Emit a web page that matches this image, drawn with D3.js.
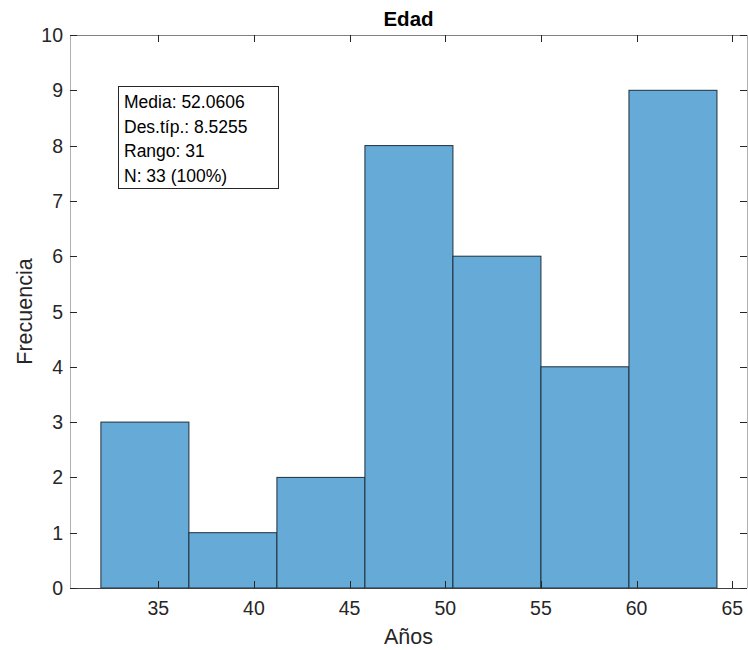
<!DOCTYPE html>
<html><head><meta charset="utf-8">
<script src="https://cdn.jsdelivr.net/npm/d3@7"></script>
<style>body{margin:0;background:#fff}svg{display:block}text{font-family:"Liberation Sans",Arial,sans-serif}</style>
</head><body><svg id="c" width="748" height="650"></svg>
<script>
const binEdges = [32, 36.6, 41.2, 45.8, 50.4, 55.0, 59.6, 64.2];
const counts = [3, 1, 2, 8, 6, 4, 9];
const xTicks = [35, 40, 45, 50, 55, 60, 65];
const yTicks = [0,1,2,3,4,5,6,7,8,9,10];
const statsLines = ["Media: 52.0606", "Des.típ.: 8.5255", "Rango: 31", "N: 33 (100%)"];
const title = "Edad", xLabel = "Años", yLabel = "Frecuencia";

const svg = d3.select("#c");
const L = 70, R = 747, T = 35, B = 588;
const x = d3.scaleLinear().domain([30.385, 65.77]).range([L, R]);
const y = d3.scaleLinear().domain([0, 10]).range([B, T]);

const bins = counts.map((c, i) => ({x0: binEdges[i], x1: binEdges[i+1], c}));
svg.selectAll("rect.bar").data(bins).enter().append("rect")
  .attr("x", d => x(d.x0)).attr("y", d => y(d.c))
  .attr("width", d => x(d.x1) - x(d.x0)).attr("height", d => y(0) - y(d.c))
  .attr("fill", "#66aad8").attr("stroke", "#1f2f3c").attr("stroke-width", 1);

// box
svg.append("line").attr("x1", L).attr("x2", R).attr("y1", T + 0.5).attr("y2", T + 0.5).attr("stroke", "#808080");
svg.append("line").attr("x1", L).attr("x2", R).attr("y1", B + 0.5).attr("y2", B + 0.5).attr("stroke", "#404040");
svg.append("line").attr("x1", L + 0.5).attr("x2", L + 0.5).attr("y1", T).attr("y2", B).attr("stroke", "#b0b0b0");
svg.append("line").attr("x1", R + 0.5).attr("x2", R + 0.5).attr("y1", T).attr("y2", B).attr("stroke", "#b0b0b0");

const tl = 7;
// x ticks
xTicks.forEach(t => {
  const px = Math.round(x(t)) + 0.5;
  svg.append("line").attr("x1", px).attr("x2", px).attr("y1", B).attr("y2", B - tl).attr("stroke", "#262626");
  svg.append("line").attr("x1", px).attr("x2", px).attr("y1", T).attr("y2", T + tl).attr("stroke", "#262626");
  svg.append("text").attr("x", x(t)).attr("y", B + 27).attr("text-anchor", "middle")
    .attr("font-size", 19.5).attr("fill", "#262626").text(t);
});
// y ticks
yTicks.forEach(t => {
  const py = Math.round(y(t)) + 0.5;
  svg.append("line").attr("x1", L).attr("x2", L + tl).attr("y1", py).attr("y2", py).attr("stroke", "#262626");
  svg.append("line").attr("x1", R - tl).attr("x2", R).attr("y1", py).attr("y2", py).attr("stroke", "#262626");
  svg.append("text").attr("x", 63).attr("y", y(t) + 7).attr("text-anchor", "end")
    .attr("font-size", 19.5).attr("fill", "#262626").text(t);
});

svg.append("text").attr("x", (L + R) / 2).attr("y", 26).attr("text-anchor", "middle")
  .attr("font-size", 20.5).attr("font-weight", "bold").attr("fill", "#000").text(title);
svg.append("text").attr("x", (L + R) / 2).attr("y", 644).attr("text-anchor", "middle")
  .attr("font-size", 21.5).attr("fill", "#262626").text(xLabel);
svg.append("text").attr("transform", `translate(32,${(T + B) / 2}) rotate(-90)`).attr("text-anchor", "middle")
  .attr("font-size", 21.5).attr("fill", "#262626").text(yLabel);

// stats box
svg.append("rect").attr("x", 118.5).attr("y", 86.5).attr("width", 160).attr("height", 102)
  .attr("fill", "#fff").attr("stroke", "#262626").attr("stroke-width", 1);
statsLines.forEach((s, i) => {
  svg.append("text").attr("x", 124).attr("y", 108 + i * 24.5).attr("font-size", 17.5)
    .attr("fill", "#000").text(s);
});
</script></body></html>
